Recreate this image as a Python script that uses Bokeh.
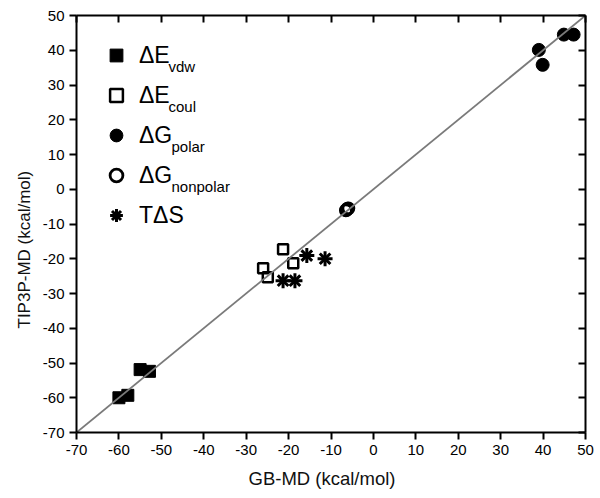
from bokeh.plotting import figure
from bokeh.models import (LinearAxis, Label, Legend, LegendItem, Range1d,
                          FixedTicker, Title)
from bokeh.embed import file_html
from bokeh.resources import INLINE

# ---- data (kcal/mol): GB-MD (x) vs TIP3P-MD (y) ----
x_ticks = [-70, -60, -50, -40, -30, -20, -10, 0, 10, 20, 30, 40, 50]
y_ticks = [-70, -60, -50, -40, -30, -20, -10, 0, 10, 20, 30, 40, 50]

evdw_x = [-60.0, -57.9, -55.0, -52.8]
evdw_y = [-60.0, -59.3, -51.9, -52.4]

ecoul_x = [-21.3, -18.9, -26.0, -24.9]
ecoul_y = [-17.3, -21.3, -22.7, -25.3]

gpol_x = [44.9, 47.2, 39.0, 39.9]
gpol_y = [44.5, 44.5, 40.1, 35.8]

gnp_x = [-6.5, -6.1, -6.3, -5.9]
gnp_y = [-6.1, -5.6, -5.9, -5.5]

tds_x = [-15.7, -11.4, -21.3, -18.5]
tds_y = [-19.1, -20.0, -26.3, -26.3]

diag = [-70, 50]

legend_main = ["\u0394E", "\u0394E", "\u0394G", "\u0394G", "T\u0394S"]
legend_sub = ["vdw", "coul", "polar", "nonpolar", ""]

FONT = "Liberation Sans"

p = figure(width=600, height=498, output_backend="svg", toolbar_location=None,
           x_range=Range1d(-70, 50), y_range=Range1d(-70, 50),
           min_border_left=76, min_border_right=15, min_border_top=15,
           min_border_bottom=66, x_axis_location=None, y_axis_location=None)
p.grid.visible = False
p.outline_line_color = None
p.background_fill_color = "white"
p.border_fill_color = "white"


def style_axis(ax, outer, ticks):
    ax.axis_line_width = 2
    ax.axis_line_color = "black"
    ax.major_tick_line_width = 2
    ax.major_tick_line_color = "black"
    ax.minor_tick_line_color = None
    if outer:
        ax.major_tick_out = 7
        ax.major_tick_in = 0
        ax.major_label_text_font = FONT
        ax.major_label_text_font_size = "15px"
        ax.major_label_text_color = "black"
        ax.major_label_standoff = 5
        ax.major_label_overrides = {t: str(t) for t in ticks}
    else:
        ax.major_tick_out = 0
        ax.major_tick_in = 7
        ax.major_label_text_font_size = "0px"
        ax.major_label_text_color = None
        ax.major_label_standoff = 0


bottom = LinearAxis(ticker=FixedTicker(ticks=x_ticks))
left = LinearAxis(ticker=FixedTicker(ticks=y_ticks))
top = LinearAxis(ticker=FixedTicker(ticks=x_ticks))
right = LinearAxis(ticker=FixedTicker(ticks=y_ticks))
style_axis(bottom, True, x_ticks)
style_axis(left, True, y_ticks)
style_axis(top, False, x_ticks)
style_axis(right, False, y_ticks)
p.add_layout(bottom, "below")
p.add_layout(left, "left")
p.add_layout(top, "above")
p.add_layout(right, "right")

# axis titles as side-panel titles (allows an offset like the reference)
p.add_layout(Title(text="GB-MD (kcal/mol)", align="left", offset=172,
                   text_font=FONT, text_font_size="18.5px",
                   text_font_style="normal", text_color="#111111",
                   standoff=16), "below")
p.add_layout(Title(text="TIP3P-MD (kcal/mol)", align="left", offset=104,
                   text_font=FONT, text_font_size="17px",
                   text_font_style="normal", text_color="#111111",
                   standoff=12), "left")

# ---- data glyphs ----
r_vdw = p.scatter(evdw_x, evdw_y, marker="square", size=12,
                  fill_color="black", line_color="black", line_width=1)
r_coul = p.scatter(ecoul_x, ecoul_y, marker="square", size=10,
                   fill_color=None, line_color="black", line_width=2.5)
r_pol = p.scatter(gpol_x, gpol_y, marker="circle", size=13,
                  fill_color="black", line_color="black", line_width=1)
r_np = p.scatter(gnp_x, gnp_y, marker="circle", size=11,
                 fill_color=None, line_color="black", line_width=2.8)
r_tds1 = p.scatter(tds_x, tds_y, marker="cross", size=15,
                   line_color="black", line_width=3)
r_tds2 = p.scatter(tds_x, tds_y, marker="x", size=15,
                   line_color="black", line_width=3)
p.line(diag, diag, line_color="#7a7a7a", line_width=1.8)

# ---- legend ----
items = [LegendItem(label=legend_main[0], renderers=[r_vdw]),
         LegendItem(label=legend_main[1], renderers=[r_coul]),
         LegendItem(label=legend_main[2], renderers=[r_pol]),
         LegendItem(label=legend_main[3], renderers=[r_np]),
         LegendItem(label=legend_main[4], renderers=[r_tds1, r_tds2])]
leg = Legend(items=items, location="top_left", margin=24, padding=22,
             glyph_width=32, glyph_height=32, label_height=32, spacing=8,
             label_standoff=7, border_line_color=None,
             background_fill_alpha=0, label_text_font=FONT,
             label_text_font_size="23px", label_text_color="black")
p.add_layout(leg)

# subscripts (screen units, relative to the plot frame)
frame_h = 417
sub_x = [92, 92, 95, 95, 0]
for i, s in enumerate(legend_sub):
    if not s:
        continue
    cy = 38 + 40 * i  # item centre from frame top
    p.add_layout(Label(x=sub_x[i], y=frame_h - (cy + 12.5), x_units="screen",
                       y_units="screen", text=s, text_font=FONT,
                       text_font_size="15px", text_color="black",
                       text_baseline="alphabetic", text_align="left"))

open("out.html", "w").write(file_html(p, INLINE))
